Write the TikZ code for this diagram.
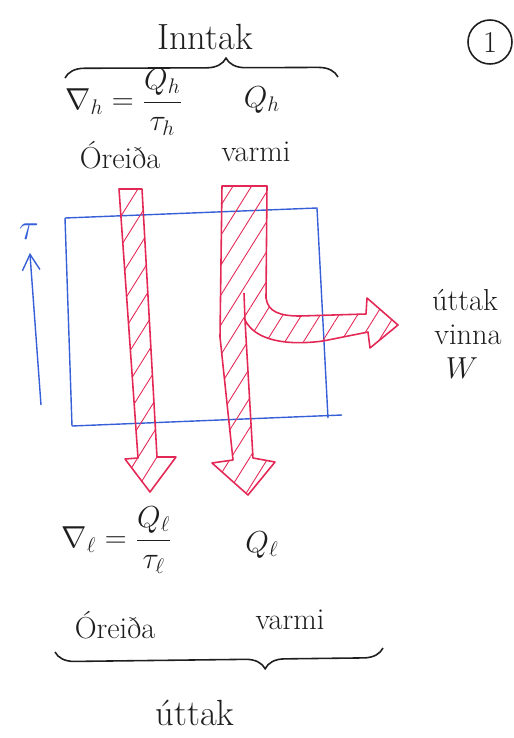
\documentclass[tikz,border=0pt]{standalone}
\usepackage{amsmath}
\usetikzlibrary{arrows.meta,decorations.pathreplacing,patterns.meta}
\definecolor{penred}{RGB}{228,40,85}
\definecolor{penblue}{RGB}{55,95,215}
\definecolor{penink}{RGB}{30,30,30}
\newcommand{\handBig}[0]{\huge}
\newcommand{\hand}[0]{\LARGE}

\begin{document}
\begin{tikzpicture}[x=0.02cm, y=-0.02cm, line width=0.9pt]
  \tikzset{label text/.style={font=\hand, text=penink, inner sep=0pt},
    title text/.style={font=\handBig, text=penink, inner sep=0pt},
    flow/.style={draw=penred, line join=round,
      pattern={Lines[angle=58,distance=9pt,line width=0.5pt]}, pattern color=penred},
    brace line/.style={draw=penink, decorate, decoration={brace, amplitude=11pt, aspect=#1}}}
  \useasboundingbox (0,0) rectangle (514,738);

  \node[title text] (inntak) at (205,37) {Inntak};
  \coordinate (topL) at (65,78);
  \coordinate (topR) at (338,77);
  \draw[brace line=0.59] (topL) -- (topR);
  \node[label text, draw=penink, circle, minimum size=0.88cm] (pagenum) at (490,42) {1};

  \node[label text] (sigmah) at (124,102) {$\nabla_h = \dfrac{Q_h}{\tau_h}$};
  \node[label text] (heath) at (262,100) {$Q_h$};
  \node[label text] (oreidah) at (120,155) {Óreiða};
  \node[label text] (varmih) at (256,152) {varmi};

  \draw[penblue, line width=0.8pt] (65,218) -- (317,208) -- (328,418)
    (72,426) -- (342,415) (65,218) -- (72,426);
  \node[title text, text=penblue] (tau) at (29,232) {$\tau$};
  \coordinate (taubase) at (41,405);
  \draw[penblue, line width=0.8pt, shorten >=7pt, -{Straight Barb[length=9pt,width=10pt]}] (taubase) -- (tau.south);

  \path[flow] (119,189) -- (142,189) -- (157,457) -- (176,457) -- (150,492)
    -- (125,459) -- (138,458) -- cycle;
  \path[flow] (222,186) -- (267,186) -- (266,298)
    .. controls (268,312) and (280,316) .. (300,316) -- (366,314)
    -- (367,298) -- (398,325) -- (370,348) -- (368,332) -- (323,341)
    .. controls (285,346) and (255,340) .. (245,320)
    -- (253,458) -- (275,462) -- (248,495) -- (212,463) -- (233,460)
    -- (220,337) -- cycle;
  \draw[penred] (244,293) -- (245,320);

  \node[label text] (uttakw) at (465,300) {úttak};
  \node[label text] (vinna) at (468,335) {vinna};
  \node[label text] (work) at (462,368) {$W$};

  \node[label text] (sigmal) at (117,540) {$\nabla_\ell = \dfrac{Q_\ell}{\tau_\ell}$};
  \node[label text] (heatl) at (262,545) {$Q_\ell$};
  \node[label text] (oreidal) at (115,625) {Óreiða};
  \node[label text] (varmil) at (290,620) {varmi};
  \coordinate (botL) at (55,652);
  \coordinate (botR) at (383,648);
  \draw[brace line=0.36] (botR) -- (botL);
  \node[title text] (uttak) at (195,713) {úttak};
\end{tikzpicture}
\end{document}
